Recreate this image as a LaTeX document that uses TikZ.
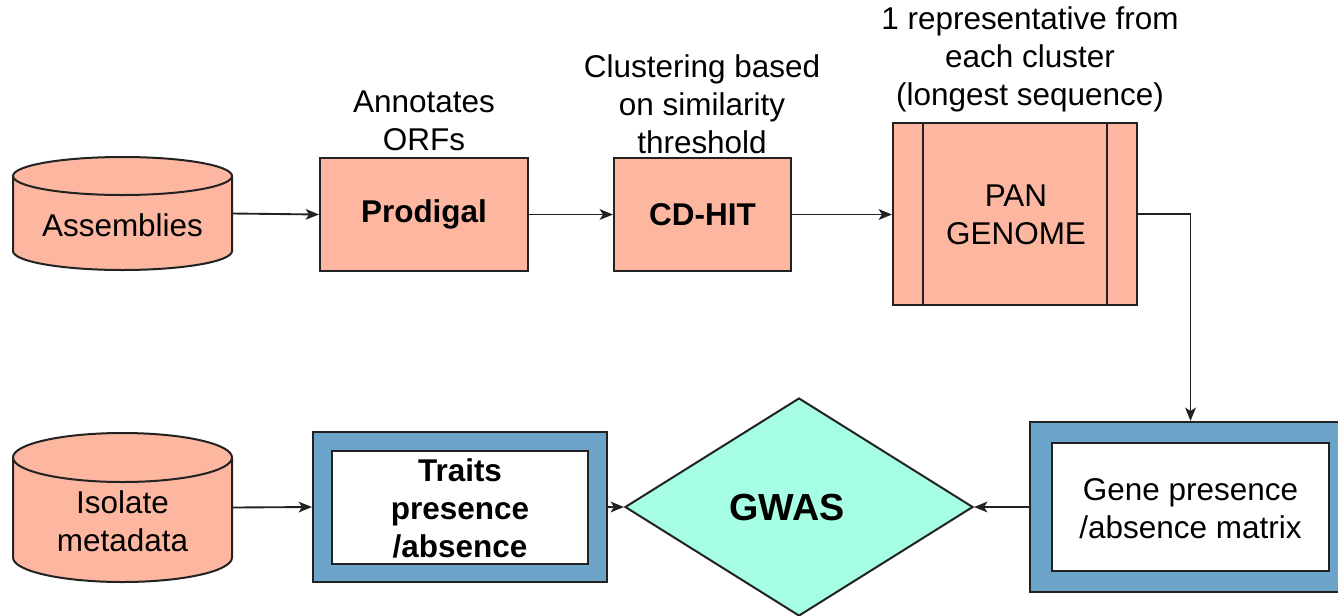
\documentclass[tikz,border=0pt]{standalone}
\usepackage{fontspec}
\setmainfont{Liberation Sans}
\usetikzlibrary{shapes.geometric,arrows.meta,calc}
\newdimen\pxu \pxu=0.75pt
\definecolor{salmon}{RGB}{253,183,160}
\definecolor{steel}{RGB}{107,164,200}
\definecolor{mint}{RGB}{166,255,228}
\definecolor{edge}{RGB}{34,34,34}
\tikzset{
  txt/.style={font=\fontsize{23.6pt}{28.5pt}\selectfont, align=center, inner sep=0pt},
  btxt/.style={txt, font=\fontsize{23.6pt}{28.5pt}\selectfont\bfseries},
  procbox/.style={draw=edge, line width=1.5pt, fill=salmon, inner sep=0pt},
  outerbox/.style={draw=edge, line width=1.5pt, fill=steel, inner sep=0pt},
  innerbox/.style={draw=edge, line width=1.5pt, fill=white, inner sep=0pt},
  cyl/.style={draw=edge, line width=1.5pt, fill=salmon},
  ghost/.style={inner sep=0pt, draw=none},
  conn/.style={draw=edge, line width=1.4pt, -{Stealth[length=10pt,width=8pt,inset=2.5pt]}},
}
\begin{document}
\begin{tikzpicture}[x=0.75pt,y=0.75pt]
\useasboundingbox (0,0) rectangle (1338,-615);
\clip (0,0) rectangle (1338,-615);
\fill[white] (0,0) rectangle (1338,-615);

% ---- Assemblies cylinder
\node[ghost, minimum width=219\pxu, minimum height=113\pxu] (asm) at (122.5,-213.5) {};
\fill[salmon] (13,-176) rectangle (232,-251);
\fill[salmon] (122.5,-251) ellipse [x radius=109.5, y radius=19];
\draw[cyl] (122.5,-176) ellipse [x radius=109.5, y radius=19];
\draw[edge, line width=1.5pt] (13,-176) -- (13,-251) arc[start angle=180, end angle=360, x radius=109.5, y radius=19] -- (232,-176);
\node[txt] (asmt) at (122.5,-225) {Assemblies};

% ---- Isolate metadata cylinder
\node[ghost, minimum width=219\pxu, minimum height=149\pxu] (iso) at (122.5,-507.5) {};
\fill[salmon] (13,-457.5) rectangle (232,-557.5);
\fill[salmon] (122.5,-557.5) ellipse [x radius=109.5, y radius=24.5];
\draw[cyl] (122.5,-457.5) ellipse [x radius=109.5, y radius=24.5];
\draw[edge, line width=1.5pt] (13,-457.5) -- (13,-557.5) arc[start angle=180, end angle=360, x radius=109.5, y radius=24.5] -- (232,-457.5);
\node[txt] (isot) at (122.5,-521.5) {Isolate\\metadata};

% ---- top row boxes
\node[procbox, minimum width=208\pxu, minimum height=113\pxu] (prod) at (424,-214.5) {};
\node[btxt] at (prod.center) {Prodigal};
\node[procbox, minimum width=177\pxu, minimum height=113\pxu] (cdhit) at (702.5,-214.5) {};
\node[btxt] at (cdhit.center) {CD-HIT};
\node[procbox, minimum width=244\pxu, minimum height=182\pxu] (pan) at (1015,-214) {};
\draw[edge, line width=1.5pt] ([xshift=31\pxu]pan.north west) -- ([xshift=31\pxu]pan.south west);
\draw[edge, line width=1.5pt] ([xshift=-31\pxu]pan.north east) -- ([xshift=-31\pxu]pan.south east);
\node[txt] at (1016,-215) {PAN\\GENOME};

% ---- labels above
\node[txt] (lab1) at (424,-121) {Annotates\\ORFs};
\node[txt] (lab2) at (702,-104.5) {Clustering based\\on similarity\\threshold};
\node[txt] (lab3) at (1030,-59) {1 representative from\\each cluster\\(longest sequence)};

% ---- bottom row
\node[outerbox, minimum width=294\pxu, minimum height=150\pxu] (traitso) at (460,-507) {};
\node[innerbox, minimum width=256\pxu, minimum height=113\pxu] (traits) at (460,-507.5) {};
\node[btxt] at (460,-508.5) {Traits\\presence\\/absence};

\node[outerbox, minimum width=321\pxu, minimum height=170\pxu] (geneo) at (1190.5,-507) {};
\node[innerbox, minimum width=277\pxu, minimum height=128\pxu] (gene) at (1190.5,-507) {};
\node[txt] at (1190.5,-508.5) {Gene presence\\/absence matrix};

\node[diamond, draw=edge, line width=1.5pt, fill=mint, inner sep=0pt, minimum width=348\pxu, minimum height=218\pxu] (gwas) at (799,-507) {};
\node[btxt, font=\fontsize{28.3pt}{31pt}\selectfont\bfseries] at (787,-507) {GWAS};

% ---- connectors
\draw[conn] (asm.east) -- (prod.west);
\draw[conn] (prod.east) -- (cdhit.west);
\draw[conn] (cdhit.east) -- (cdhit.east -| pan.west);
\draw[conn] (pan.east) -| (geneo.north);
\draw[conn] (geneo.west) -- (gwas.east);
\draw[conn] (iso.east) -- (traitso.west);
\draw[conn] (traitso.east) -- (gwas.west);
\end{tikzpicture}
\end{document}
